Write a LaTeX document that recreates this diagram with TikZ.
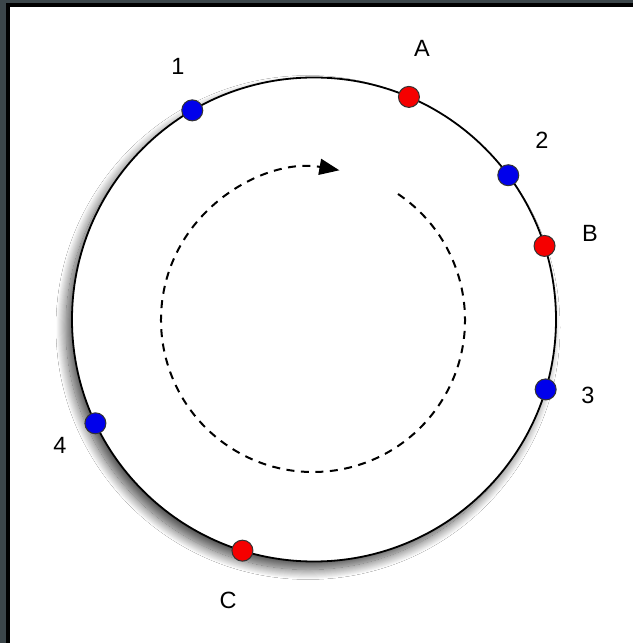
\documentclass[tikz,border=0pt]{standalone}
\usepackage{fontspec}
\setmainfont{Liberation Sans}
\usetikzlibrary{arrows.meta,shadows.blur}
\definecolor{framegray}{RGB}{60,70,74}
\definecolor{dotblue}{RGB}{0,0,235}
\definecolor{dotred}{RGB}{245,0,0}
\tikzset{
  ringstyle/.style={circle,draw=black,line width=1.8pt,fill=white,minimum size=484pt,inner sep=0pt,
    blur shadow={shadow xshift=-6pt,shadow yshift=-8pt,shadow blur radius=10pt,shadow blur steps=20,shadow opacity=70}},
  bluedot/.style={circle,draw=black!80,line width=1pt,fill=dotblue,minimum size=21pt,inner sep=0pt},
  reddot/.style={circle,draw=black!80,line width=1pt,fill=dotred,minimum size=21pt,inner sep=0pt},
  lbl/.style={font=\fontsize{23.5}{26}\selectfont,inner sep=0pt,text depth=0pt,anchor=center}
}
\begin{document}
\begin{tikzpicture}[x=1pt,y=1pt]
\useasboundingbox (0,0) rectangle (633,643);
\fill[framegray] (0,0) rectangle (633,643);
\fill[black] (6,0) rectangle (633,639.7);
\fill[white] (9.5,0) rectangle (633,636.4);
\node[ringstyle] (ring) at (314,323.5) {};
\coordinate (c) at (313,323);
\draw[dashed,dash pattern=on 8pt off 6.5pt,line width=2pt,-{Triangle[length=20pt,width=16pt]}]
  ($(c)+(56:152)$) arc[start angle=56,end angle=-280,radius=152];
\node[bluedot] (p1) at ($(ring.center)+(120.2:242)$) {};
\node[reddot]  (pA) at ($(ring.center)+(66.9:242)$) {};
\node[bluedot] (p2) at ($(ring.center)+(36.6:242)$) {};
\node[reddot]  (pB) at ($(ring.center)+(17.7:242)$) {};
\node[bluedot] (p3) at ($(ring.center)+(-16.8:242)$) {};
\node[bluedot] (p4) at ($(ring.center)+(205.4:242)$) {};
\node[reddot]  (pC) at ($(ring.center)+(252.8:242)$) {};
\node[lbl] (l1) at (178,577) {1};
\node[lbl] (lA) at (422,594.5) {A};
\node[lbl] (l2) at (542,503) {2};
\node[lbl] (lB) at (590,410) {B};
\node[lbl] (l3) at (588,248) {3};
\node[lbl] (l4) at (60,198) {4};
\node[lbl] (lC) at (228,43) {C};
\end{tikzpicture}
\end{document}
